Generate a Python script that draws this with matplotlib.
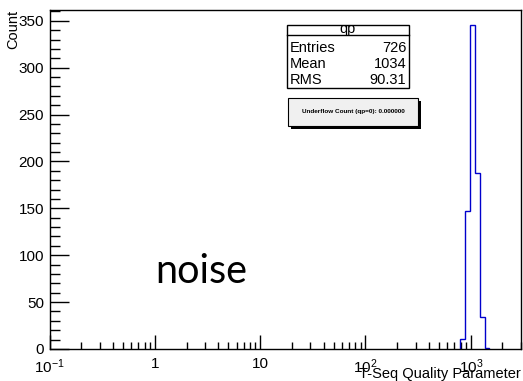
import matplotlib
matplotlib.use("Agg")
import matplotlib.pyplot as plt
from matplotlib.patches import Rectangle
from matplotlib.ticker import FixedLocator, NullFormatter

plt.rcParams['font.family'] = ['Liberation Sans', 'DejaVu Sans']
plt.rcParams['mathtext.fontset'] = 'custom'
plt.rcParams['mathtext.rm'] = 'Liberation Sans'
plt.rcParams['mathtext.it'] = 'Liberation Sans'
plt.rcParams['axes.unicode_minus'] = False

# Histogram of the T-Seq quality parameter (log-spaced bins)
bin_edges = [791, 887, 978, 1091, 1217, 1358, 1483]
bin_counts = [11, 147, 345, 188, 34, 1]

x_major = [0.1, 1, 10, 100, 1000]
x_major_labels = ["$10^{-1}$", "1", "10", "$10^{2}$", "$10^{3}$"]
y_ticks = [0, 50, 100, 150, 200, 250, 300, 350]

stats_title = "qp"
stats_names = ["Entries", "Mean", "RMS"]
stats_values = ["726", "1034", "90.31"]
underflow_text = "Underflow Count (qp=0): 0.000000"

W, H = 523, 381
fig = plt.figure(figsize=(W / 100, H / 100), dpi=100)
ax = fig.add_axes([49.5 / W, 1 - 349 / H, (521 - 49.5) / W, (349 - 9.5) / H])

ax.stairs(bin_counts, bin_edges, color='#0000cc', linewidth=1.0, zorder=3)

ax.set_xscale('log')
ax.set_xlim(0.1, 3000)
ax.set_ylim(0, 362)

# axis ticks, ROOT style: inward, left/bottom only
ax.xaxis.set_major_locator(FixedLocator(x_major))
ax.set_xticklabels(x_major_labels)
minor = [m * d for d in [0.1, 1, 10, 100, 1000] for m in range(2, 10) if m * d <= 3000]
ax.xaxis.set_minor_locator(FixedLocator(minor))
ax.xaxis.set_minor_formatter(NullFormatter())
ax.set_yticks(y_ticks)
ax.set_yticks(range(0, 361, 10), minor=True)

ax.tick_params(axis='both', which='both', direction='in', top=False, right=False,
               width=1.0, color='black')
ax.tick_params(axis='y', which='major', length=14, labelsize=11, pad=4)
ax.tick_params(axis='y', which='minor', length=7)
ax.tick_params(axis='x', which='major', length=10, labelsize=11, pad=6)
ax.tick_params(axis='x', which='minor', length=5)
for s in ax.spines.values():
    s.set_linewidth(1.0)
    s.set_zorder(4)

# axis titles
fig.text(521 / W, 1 - 378 / H, "T-Seq Quality Parameter", ha='right', va='baseline', fontsize=10.5)
fig.text(13 / W, 1 - 9.5 / H, "Count", rotation=90, ha='center', va='top', fontsize=10.5)

# "noise" annotation
fig.text(155 / W, 1 - 283 / H, "noise", ha='left', va='baseline', fontsize=28.5,
         family=['Lato', 'DejaVu Sans'])

# statistics box
def px_box(x0, y0, x1, y1, **kw):
    return Rectangle((x0 / W, 1 - y1 / H), (x1 - x0) / W, (y1 - y0) / H,
                     transform=fig.transFigure, **kw)

fig.add_artist(px_box(287, 25, 409, 88, facecolor='white', edgecolor='black', linewidth=1.0))
fig.add_artist(plt.Line2D([287 / W, 409 / W], [1 - 34.5 / H, 1 - 34.5 / H],
                          transform=fig.transFigure, color='black', linewidth=1.0))
fig.text(348 / W, 1 - 29.5 / H, stats_title, ha='center', va='center', fontsize=10.5)
for i, (n, v) in enumerate(zip(stats_names, stats_values)):
    yy = 1 - (48 + 16 * i) / H
    fig.text(290 / W, yy, n, ha='left', va='center', fontsize=10.5)
    fig.text(406.5 / W, yy, v, ha='right', va='center', fontsize=10.5)

# underflow box with drop shadow
fig.add_artist(px_box(291, 101, 421, 129, facecolor='black', edgecolor='black', linewidth=0))
fig.add_artist(px_box(288, 98, 418, 126, facecolor='#f0f0f0', edgecolor='black', linewidth=0.8))
fig.text(353 / W, 1 - 112 / H, underflow_text, ha='center', va='center', fontsize=4.6,
         fontweight='bold')

fig.savefig("out.png", dpi=100)
